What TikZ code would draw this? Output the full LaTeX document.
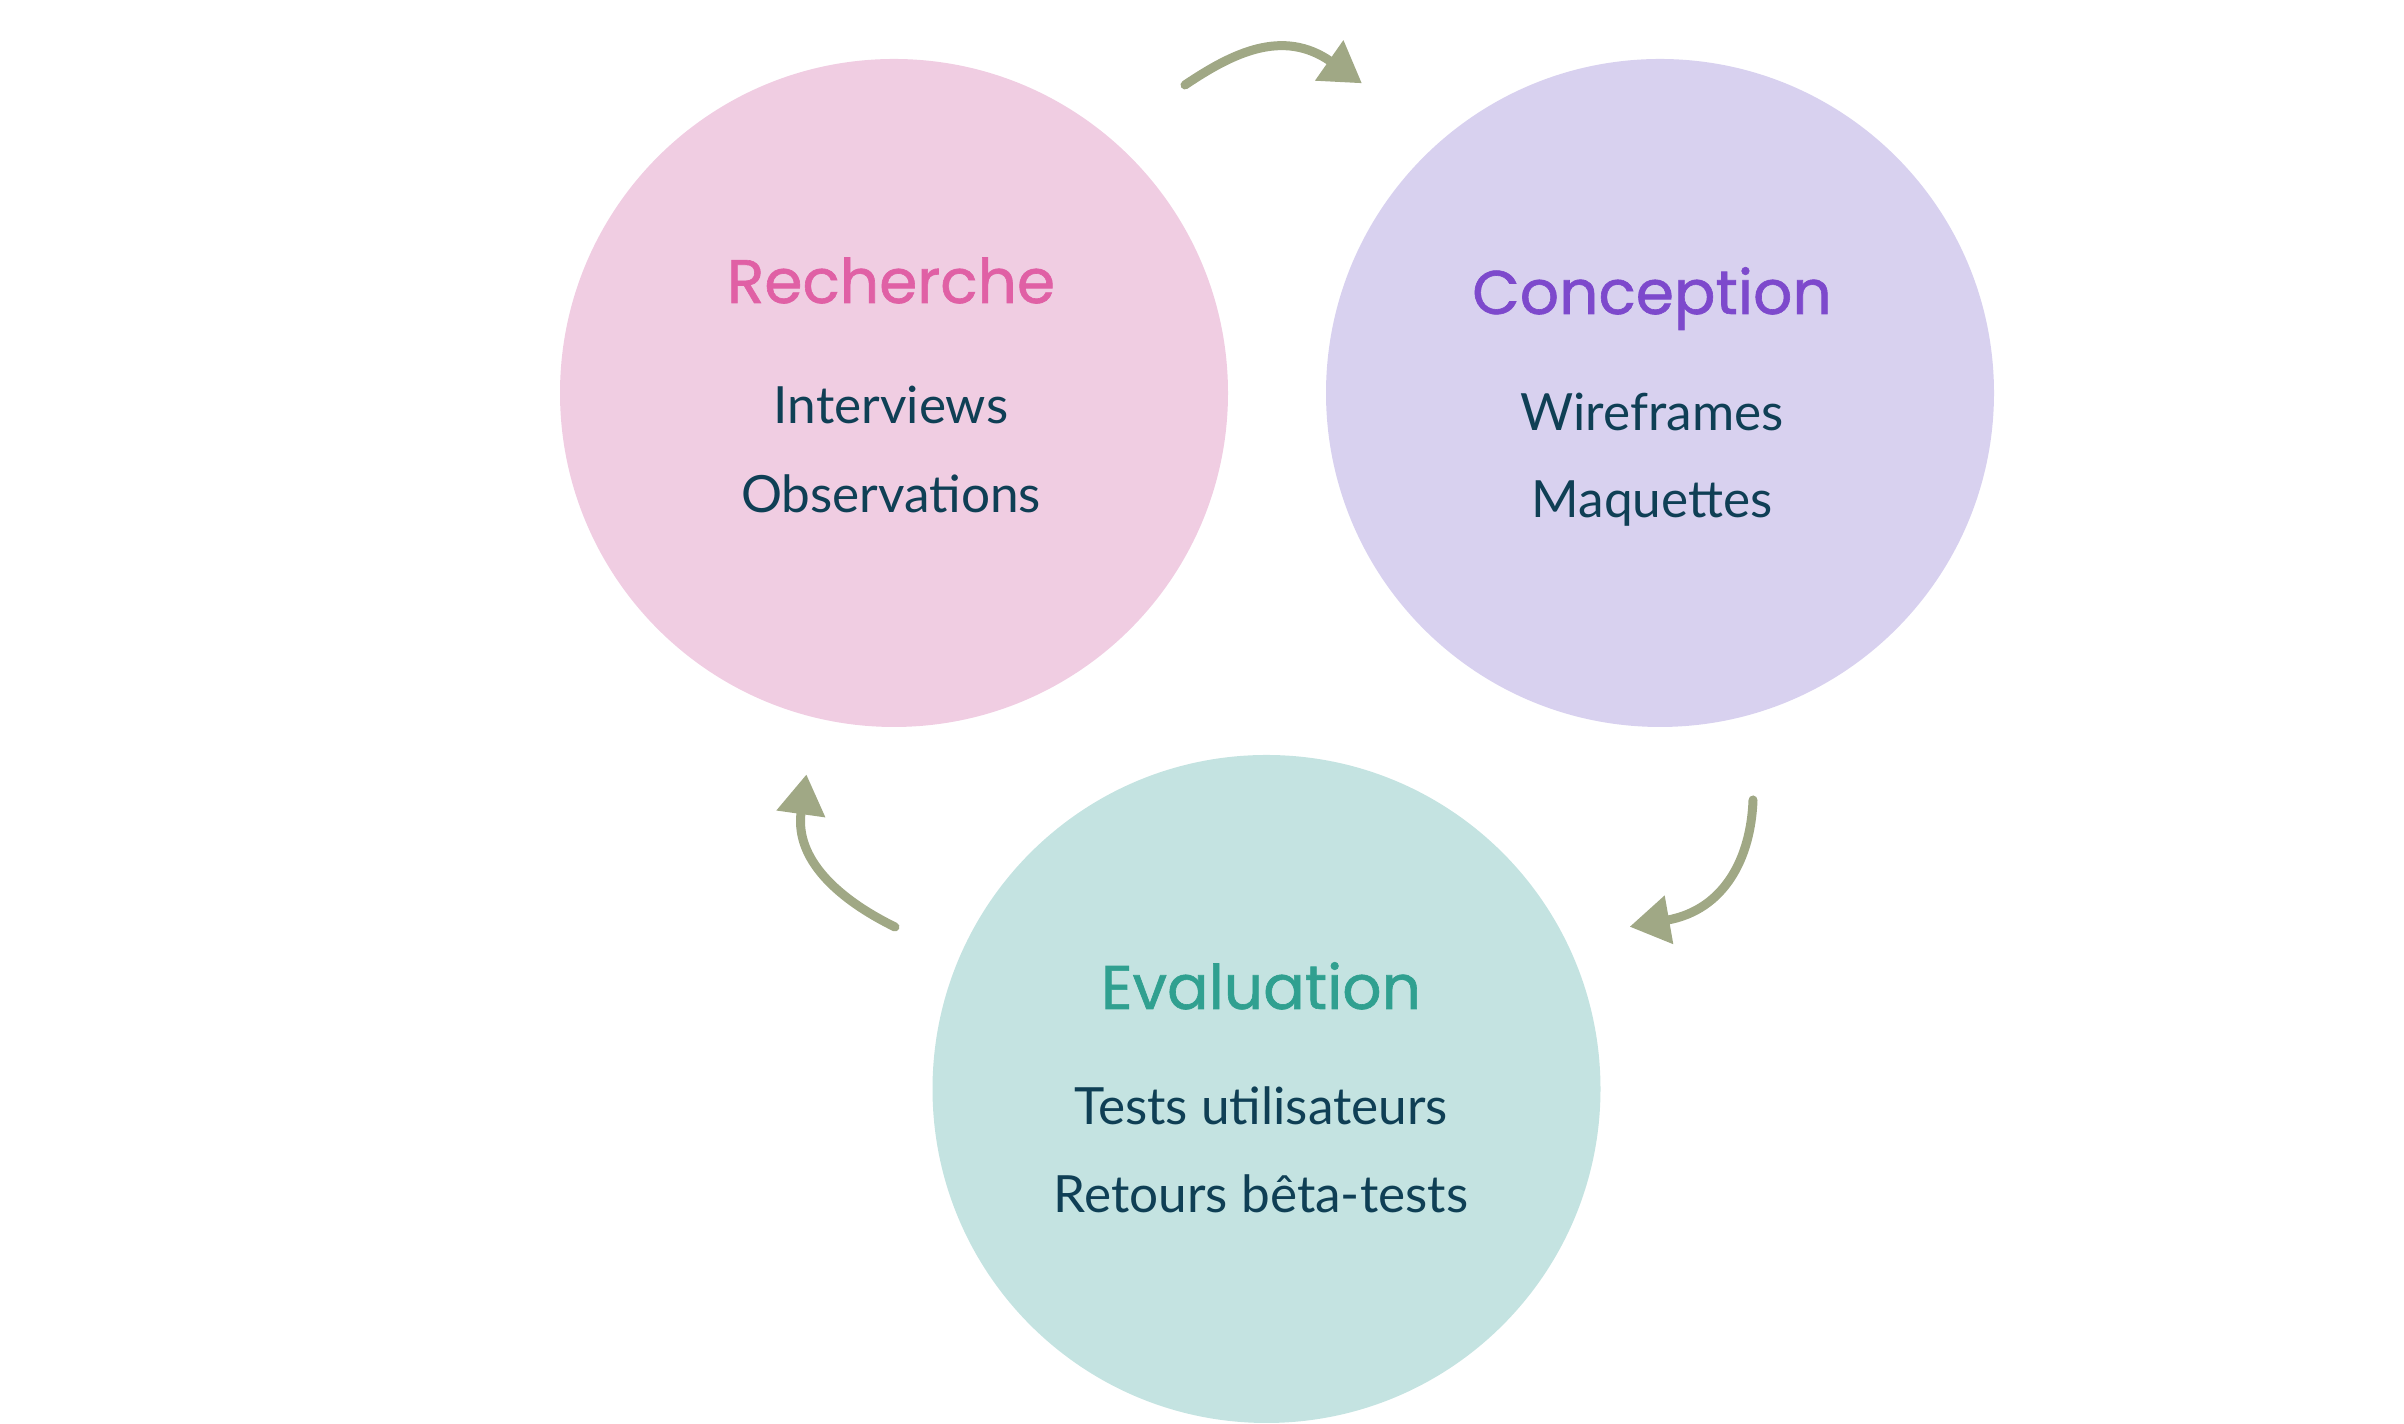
\documentclass[tikz,border=0pt]{standalone}
\usepackage{fontspec}
\setmainfont{Lato}
\newfontfamily\titlefont{Poppins}[FakeBold=1]
\usetikzlibrary{positioning, arrows.meta}

\definecolor{pinkbg}{HTML}{F0CDE2}
\definecolor{lilacbg}{HTML}{D8D1EF}
\definecolor{tealbg}{HTML}{C4E3E1}
\definecolor{pinkfg}{HTML}{E060A5}
\definecolor{lilacfg}{HTML}{7D49CC}
\definecolor{tealfg}{HTML}{30A090}
\definecolor{itemfg}{HTML}{0F3F55}
\definecolor{cyclefg}{HTML}{A0A885}

\begin{document}
\begin{tikzpicture}[
     phase/.style = {circle, minimum size=6.68cm, inner sep=0pt},
     title/.style = {anchor=base, inner sep=0pt, font=\titlefont\fontsize{17.5}{21}\selectfont},
      item/.style = {anchor=base, inner sep=0pt, text=itemfg, font=\fontsize{14.6}{18}\selectfont},
     cycle/.style = {draw=cyclefg, line width=0.09cm, line cap=round, shorten >=-0.39cm,
                     -{Triangle[length=0.4cm, width=0.47cm]}}
                        ]
\useasboundingbox (0,0) rectangle (24.04,14.24);
% phases
\node (rech) [phase, fill=pinkbg]  at (8.94,10.31)  {};
\node (conc) [phase, fill=lilacbg] at (16.60,10.31) {};
\node (eval) [phase, fill=tealbg]  at (12.665,3.35) {};
% recherche
\node (rechT) [title, text=pinkfg] at ([shift={(-0.03,0.90)}]rech.center) {Recherche};
\node (rech1) [item] at ([shift={(-0.03,-0.31)}]rech.center) {Interviews};
\node (rech2) [item] at ([shift={(-0.03,-1.20)}]rech.center) {Observations};
% conception
\node (concT) [title, text=lilacfg] at ([shift={(-0.08,0.79)}]conc.center) {Conception};
\node (conc1) [item] at ([shift={(-0.08,-0.38)}]conc.center) {Wireframes};
\node (conc2) [item] at ([shift={(-0.08,-1.25)}]conc.center) {Maquettes};
% evaluation
\node (evalT) [title, text=tealfg] at ([shift={(-0.055,0.80)}]eval.center) {Evaluation};
\node (eval1) [item] at ([shift={(-0.055,-0.36)}]eval.center) {Tests utilisateurs};
\node (eval2) [item] at ([shift={(-0.055,-1.24)}]eval.center) {Retours bêta-tests};
% cycle arrows
\coordinate (rc1) at (11.85,13.39);
\coordinate (rc2) at (13.30,13.63);
\coordinate (ce1) at (17.53,6.24);
\coordinate (ce2) at (16.68,5.04);
\coordinate (er1) at (8.95,4.97);
\coordinate (er2) at (8.01,6.11);
\draw[cycle] (rc1) to[out=34, in=145] (rc2);
\draw[cycle] (ce1) to[out=-92, in=10] (ce2);
\draw[cycle] (er1) to[out=154, in=-98, looseness=0.9] (er2);
\end{tikzpicture}
\end{document}
